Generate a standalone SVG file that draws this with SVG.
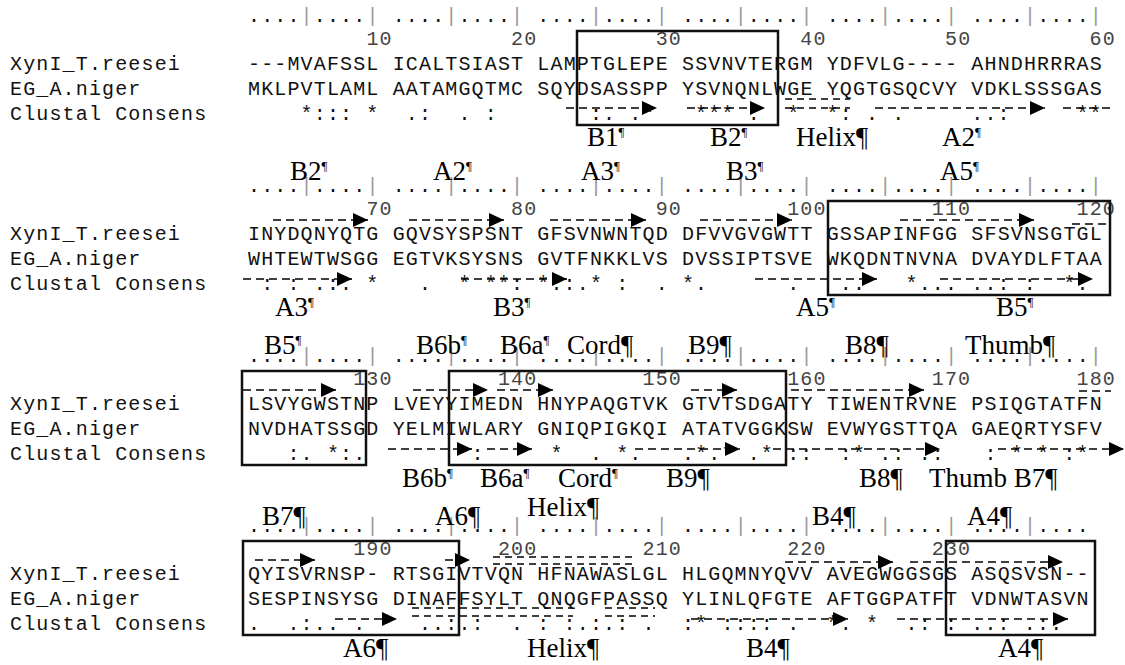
<svg xmlns="http://www.w3.org/2000/svg" width="1125" height="665" viewBox="0 0 1125 665" xml:space="preserve">
<style>
.m{font-family:"Liberation Mono","Courier New",monospace;font-size:20px;letter-spacing:1.15px;fill:#111;white-space:pre}
.n{fill:#444}
.b{fill:#9a9a9a}
.lab{font-family:"Liberation Serif","Times New Roman",serif;font-size:27px;fill:#000}
.pm{font-size:13px}
.box{fill:none;stroke:#111;stroke-width:2.5}
.ar{stroke:#000;stroke-width:1.6;stroke-dasharray:8 5;fill:none}
.hx{stroke:#000;stroke-width:1.4;stroke-dasharray:7 5;fill:none}
</style>
<defs>
<marker id="ah" markerUnits="userSpaceOnUse" markerWidth="16" markerHeight="16" refX="15" refY="7" orient="auto"><path d="M0,0 L15,7 L0,14 Z" fill="#000"/></marker>
</defs>

<g id="block1">
<text class="m" x="248" y="22">....<tspan class="b">|</tspan>....<tspan class="b">|</tspan> ....<tspan class="b">|</tspan>....<tspan class="b">|</tspan> ....<tspan class="b">|</tspan>....<tspan class="b">|</tspan> ....<tspan class="b">|</tspan>....<tspan class="b">|</tspan> ....<tspan class="b">|</tspan>....<tspan class="b">|</tspan> ....<tspan class="b">|</tspan>....<tspan class="b">|</tspan></text>
<text class="m n" x="366.4" y="45">10</text><text class="m n" x="511" y="45">20</text><text class="m n" x="655.7" y="45">30</text><text class="m n" x="800.3" y="45">40</text><text class="m n" x="945" y="45">50</text><text class="m n" x="1089.6" y="45">60</text>
<text class="m" x="10" y="70">XynI_T.reesei</text>
<text class="m" x="10" y="95">EG_A.niger</text>
<text class="m" x="10" y="120">Clustal Consens</text>
<text class="m" x="248" y="70">---MVAFSSL ICALTSIAST LAMPTGLEPE SSVNVTERGM YDFVLG---- AHNDHRRRAS</text>
<text class="m" x="248" y="95">MKLPVTLAML AATAMGQTMC SQYDSASSPP YSVNQNLWGE YQGTGSQCVY VDKLSSSGAS</text>
<text class="m" x="248" y="120">    *::: *</text><text class="m" x="392.65" y="120"> .:  . :  </text><text class="m" x="537.3" y="120">    :. .* </text><text class="m" x="681.95" y="120"> *** .  * </text><text class="m" x="826.6" y="120">*: . .    </text><text class="m" x="971.25" y="120">..:     **</text>
<rect class="box" x="577" y="31" width="201" height="94"/>
</g>

<g id="block2">
<text class="m" x="248" y="192">....<tspan class="b">|</tspan>....<tspan class="b">|</tspan> ....<tspan class="b">|</tspan>....<tspan class="b">|</tspan> ....<tspan class="b">|</tspan>....<tspan class="b">|</tspan> ....<tspan class="b">|</tspan>....<tspan class="b">|</tspan> ....<tspan class="b">|</tspan>....<tspan class="b">|</tspan> ....<tspan class="b">|</tspan>....<tspan class="b">|</tspan></text>
<text class="m n" x="366.4" y="215">70</text><text class="m n" x="511" y="215">80</text><text class="m n" x="655.7" y="215">90</text><text class="m n" x="787.2" y="215">100</text><text class="m n" x="931.8" y="215">110</text><text class="m n" x="1076.5" y="215">120</text>
<text class="m" x="10" y="240">XynI_T.reesei</text>
<text class="m" x="10" y="265">EG_A.niger</text>
<text class="m" x="10" y="290">Clustal Consens</text>
<text class="m" x="248" y="240">INYDQNYQTG GQVSYSPSNT GFSVNWNTQD DFVVGVGWTT GSSAPINFGG SFSVNSGTGL</text>
<text class="m" x="248" y="265">WHTEWTWSGG EGTVKSYSNS GVTFNKKLVS DVSSIPTSVE WKQDNTNVNA DVAYDLFTAA</text>
<text class="m" x="248" y="290"> : : .:. *</text><text class="m" x="392.65" y="290">  .  * **:</text><text class="m" x="537.3" y="290">*.:.* :  .</text><text class="m" x="681.95" y="290">*.      . </text><text class="m" x="826.6" y="290"> ..   *...</text><text class="m" x="971.25" y="290">..: :  *. </text>
<rect class="box" x="828" y="201" width="282" height="94"/>
</g>

<g id="block3">
<text class="m" x="248" y="362">....<tspan class="b">|</tspan>....<tspan class="b">|</tspan> ....<tspan class="b">|</tspan>....<tspan class="b">|</tspan> ....<tspan class="b">|</tspan>....<tspan class="b">|</tspan> ....<tspan class="b">|</tspan>....<tspan class="b">|</tspan> ....<tspan class="b">|</tspan>....<tspan class="b">|</tspan> ....<tspan class="b">|</tspan>....<tspan class="b">|</tspan></text>
<text class="m n" x="353.2" y="385">130</text><text class="m n" x="497.9" y="385">140</text><text class="m n" x="642.5" y="385">150</text><text class="m n" x="787.2" y="385">160</text><text class="m n" x="931.8" y="385">170</text><text class="m n" x="1076.5" y="385">180</text>
<text class="m" x="10" y="410">XynI_T.reesei</text>
<text class="m" x="10" y="435">EG_A.niger</text>
<text class="m" x="10" y="460">Clustal Consens</text>
<text class="m" x="248" y="410">LSVYGWSTNP LVEYYIMEDN HNYPAQGTVK GTVTSDGATY TIWENTRVNE PSIQGTATFN</text>
<text class="m" x="248" y="435">NVDHATSSGD YELMIWLARY GNIQPIGKQI ATATVGGKSW EVWYGSTTQA GAEQRTYSFV</text>
<text class="m" x="248" y="460">   :. *:. </text><text class="m" x="392.65" y="460">      :   </text><text class="m" x="537.3" y="460"> *  . *.  </text><text class="m" x="681.95" y="460">.*.* .* ::</text><text class="m" x="826.6" y="460"> :* .: .: </text><text class="m" x="971.25" y="460"> : * * :* </text>
<rect class="box" x="242" y="371" width="124" height="94"/>
<rect class="box" x="449" y="371" width="337" height="94"/>
</g>

<g id="block4">
<text class="m" x="248" y="532">....<tspan class="b">|</tspan>....<tspan class="b">|</tspan> ....<tspan class="b">|</tspan>....<tspan class="b">|</tspan> ....<tspan class="b">|</tspan>....<tspan class="b">|</tspan> ....<tspan class="b">|</tspan>....<tspan class="b">|</tspan> ....<tspan class="b">|</tspan>....<tspan class="b">|</tspan> ....<tspan class="b">|</tspan>....</text>
<text class="m n" x="353.2" y="555">190</text><text class="m n" x="497.9" y="555">200</text><text class="m n" x="642.5" y="555">210</text><text class="m n" x="787.2" y="555">220</text><text class="m n" x="931.8" y="555">230</text>
<text class="m" x="10" y="580">XynI_T.reesei</text>
<text class="m" x="10" y="605">EG_A.niger</text>
<text class="m" x="10" y="630">Clustal Consens</text>
<text class="m" x="248" y="580">QYISVRNSP- RTSGIVTVQN HFNAWASLGL HLGQMNYQVV AVEGWGGSGS ASQSVSN--</text>
<text class="m" x="248" y="605">SESPINSYSG DINAFFSYLT QNQGFPASSQ YLINLQFGTE AFTGGPATFT VDNWTASVN</text>
<text class="m" x="248" y="630">.  .:.. . </text><text class="m" x="392.65" y="630">  ..:.:  .</text><text class="m" x="537.3" y="630">: :.:.: . </text><text class="m" x="681.95" y="630">:* :::: . </text><text class="m" x="826.6" y="630">*. *  .: :</text><text class="m" x="971.25" y="630">..: .:.  </text>
<rect class="box" x="243" y="541" width="216" height="94"/>
<rect class="box" x="946" y="541" width="149" height="94"/>
</g>

<g id="labels">
<text class="lab" x="587" y="146">B1<tspan class="pm" dy="-10">¶</tspan></text>
<text class="lab" x="710" y="146">B2<tspan class="pm" dy="-10">¶</tspan></text>
<text class="lab" x="796" y="146">Helix¶</text>
<text class="lab" x="942" y="146">A2<tspan class="pm" dy="-10">¶</tspan></text>

<text class="lab" x="290" y="180">B2<tspan class="pm" dy="-10">¶</tspan></text>
<text class="lab" x="433" y="180">A2<tspan class="pm" dy="-10">¶</tspan></text>
<text class="lab" x="581" y="180">A3<tspan class="pm" dy="-10">¶</tspan></text>
<text class="lab" x="726" y="180">B3<tspan class="pm" dy="-10">¶</tspan></text>
<text class="lab" x="940" y="180">A5<tspan class="pm" dy="-10">¶</tspan></text>

<text class="lab" x="275" y="316">A3<tspan class="pm" dy="-10">¶</tspan></text>
<text class="lab" x="493" y="316">B3<tspan class="pm" dy="-10">¶</tspan></text>
<text class="lab" x="796" y="316">A5<tspan class="pm" dy="-10">¶</tspan></text>
<text class="lab" x="996" y="316">B5<tspan class="pm" dy="-10">¶</tspan></text>

<text class="lab" x="264" y="354">B5<tspan class="pm" dy="-10">¶</tspan></text>
<text class="lab" x="416" y="354">B6b<tspan class="pm" dy="-10">¶</tspan></text>
<text class="lab" x="500" y="354">B6a<tspan class="pm" dy="-10">¶</tspan></text>
<text class="lab" x="567" y="354">Cord¶</text>
<text class="lab" x="688" y="354">B9¶</text>
<text class="lab" x="845" y="354">B8¶</text>
<text class="lab" x="965" y="354">Thumb¶</text>

<text class="lab" x="402" y="487">B6b<tspan class="pm" dy="-10">¶</tspan></text>
<text class="lab" x="480" y="487">B6a<tspan class="pm" dy="-10">¶</tspan></text>
<text class="lab" x="558" y="487">Cord<tspan class="pm" dy="-10">¶</tspan></text>
<text class="lab" x="666" y="487">B9¶</text>
<text class="lab" x="859" y="487">B8¶</text>
<text class="lab" x="929" y="487">Thumb B7¶</text>

<text class="lab" x="527" y="516">Helix¶</text>
<text class="lab" x="262" y="525">B7¶</text>
<text class="lab" x="435" y="525">A6¶</text>
<text class="lab" x="812" y="525">B4¶</text>
<text class="lab" x="967" y="525">A4¶</text>

<text class="lab" x="343" y="657">A6¶</text>
<text class="lab" x="527" y="657">Helix¶</text>
<text class="lab" x="746" y="657">B4¶</text>
<text class="lab" x="998" y="657">A4¶</text>
</g>

<g id="connectors">
<line class="ar" x1="566" y1="108" x2="657" y2="108" marker-end="url(#ah)"/>
<line class="ar" x1="687" y1="108" x2="765" y2="108" marker-end="url(#ah)"/>
<line class="ar" x1="875" y1="108" x2="1045" y2="108" marker-end="url(#ah)"/>
<line class="ar" x1="1063" y1="108" x2="1112" y2="108"/>
<line class="hx" x1="785" y1="99" x2="850" y2="99"/>
<line class="hx" x1="785" y1="108" x2="850" y2="108"/>

<line class="ar" x1="273" y1="220" x2="368" y2="220" marker-end="url(#ah)"/>
<line class="ar" x1="409" y1="220" x2="504" y2="220" marker-end="url(#ah)"/>
<line class="ar" x1="550" y1="220" x2="646" y2="220" marker-end="url(#ah)"/>
<line class="ar" x1="700" y1="220" x2="792" y2="220" marker-end="url(#ah)"/>
<line class="ar" x1="900" y1="220" x2="1034" y2="220" marker-end="url(#ah)"/>
<line class="ar" x1="1072" y1="224" x2="1110" y2="224"/>
<line class="ar" x1="243" y1="279" x2="352" y2="279" marker-end="url(#ah)"/>
<line class="ar" x1="461" y1="279" x2="567" y2="279" marker-end="url(#ah)"/>
<line class="ar" x1="755" y1="279" x2="877" y2="279" marker-end="url(#ah)"/>
<line class="ar" x1="940" y1="279" x2="1093" y2="279" marker-end="url(#ah)"/>

<line class="ar" x1="243" y1="390" x2="336" y2="390" marker-end="url(#ah)"/>
<line class="ar" x1="413" y1="390" x2="488" y2="390" marker-end="url(#ah)"/>
<line class="ar" x1="497" y1="390" x2="553" y2="390" marker-end="url(#ah)"/>
<line class="ar" x1="691" y1="390" x2="737" y2="390" marker-end="url(#ah)"/>
<line class="ar" x1="791" y1="390" x2="924" y2="390" marker-end="url(#ah)"/>
<line class="ar" x1="1079" y1="391" x2="1111" y2="391"/>
<line class="ar" x1="388" y1="449" x2="472" y2="449" marker-end="url(#ah)"/>
<line class="ar" x1="487" y1="449" x2="532" y2="449" marker-end="url(#ah)"/>
<line class="ar" x1="635" y1="449" x2="740" y2="449" marker-end="url(#ah)"/>
<line class="ar" x1="773" y1="449" x2="940" y2="449" marker-end="url(#ah)"/>
<line class="ar" x1="998" y1="449" x2="1124" y2="449" marker-end="url(#ah)"/>

<line class="ar" x1="255" y1="560" x2="315" y2="560" marker-end="url(#ah)"/>
<line class="ar" x1="445" y1="560" x2="470" y2="560" marker-end="url(#ah)"/>
<line class="ar" x1="785" y1="562" x2="893" y2="562" marker-end="url(#ah)"/>
<line class="ar" x1="910" y1="562" x2="1063" y2="562" marker-end="url(#ah)"/>
<line class="hx" x1="493" y1="557" x2="634" y2="557"/>
<line class="hx" x1="493" y1="564" x2="634" y2="564"/>
<line class="ar" x1="335" y1="619" x2="397" y2="619" marker-end="url(#ah)"/>
<line class="ar" x1="691" y1="619" x2="848" y2="619" marker-end="url(#ah)"/>
<line class="ar" x1="897" y1="619" x2="1068" y2="619" marker-end="url(#ah)"/>
<line class="hx" x1="412" y1="608" x2="573" y2="608"/>
<line class="hx" x1="412" y1="616" x2="573" y2="616"/>
<line class="hx" x1="605" y1="608" x2="655" y2="608"/>
<line class="hx" x1="605" y1="616" x2="655" y2="616"/>
</g>
</svg>
